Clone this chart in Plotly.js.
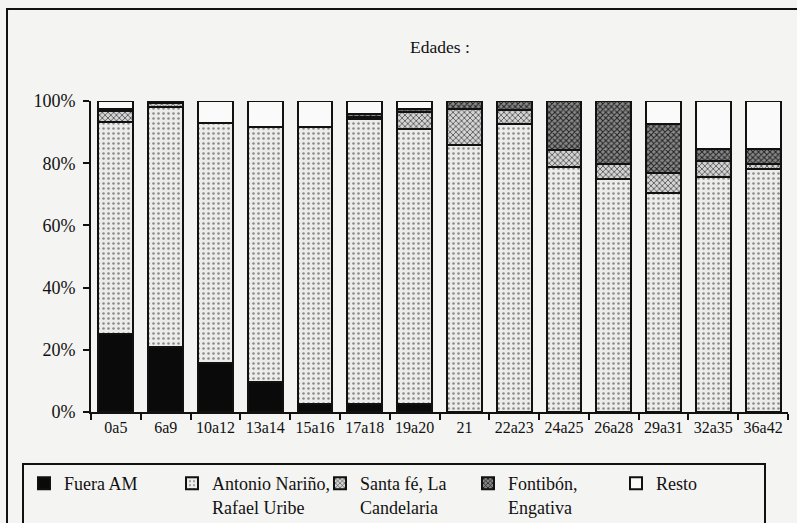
<!DOCTYPE html>
<html>
<head>
<meta charset="utf-8">
<script src="https://cdn.plot.ly/plotly-3.0.1.min.js"></script>
<style>html,body{margin:0;padding:0;background:#f4f4f2;}</style>
</head>
<body>
<div id="chart" style="width:797px;height:523px;"></div>
<script>
const categories = ['0a5','6a9','10a12','13a14','15a16','17a18','19a20','21','22a23','24a25','26a28','29a31','32a35','36a42'];
const fueraAM   = [25.0, 20.8, 15.6, 9.6, 2.7, 2.7, 2.7, 0, 0, 0, 0, 0, 0, 0];
const antonio   = [68.4, 77.4, 77.4, 82.0, 88.9, 91.6, 88.2, 86.0, 92.5, 78.7, 75.0, 70.4, 75.6, 78.2];
const santaFe   = [3.4, 1.0, 0, 0, 0, 0.6, 5.6, 11.3, 4.6, 5.7, 4.6, 6.5, 5.0, 1.4];
const fontibon  = [0.6, 0.3, 0, 0, 0, 0.8, 1.0, 2.7, 2.9, 15.6, 20.4, 15.8, 4.0, 5.0];
const resto     = [2.6, 0.5, 7.0, 8.4, 8.4, 4.3, 2.5, 0, 0, 0, 0, 7.3, 15.4, 15.4];
const seriesNames = ['Fuera AM', 'Antonio Nariño,<br>Rafael Uribe', 'Santa fé, La<br>Candelaria', 'Fontibón,<br>Engativa', 'Resto'];
const yTicks = [0, 20, 40, 60, 80, 100];
const yTickLabels = ['0%', '20%', '40%', '60%', '80%', '100%'];

const outline = {color: '#111', width: 2};
const styles = [
  {color: '#0a0a0a', line: outline},
  {color: '#ececea', line: outline, pattern: {shape: '.', fgcolor: '#8a8a8a', bgcolor: '#ececea', size: 5, solidity: 0.2}},
  {color: '#bdbdbd', line: outline, pattern: {shape: 'x', fgcolor: '#444', bgcolor: '#d4d4d4', size: 4, solidity: 0.35}},
  {color: '#555', line: outline, pattern: {shape: 'x', fgcolor: '#222', bgcolor: '#8a8a8a', size: 4, solidity: 0.45}},
  {color: '#fafafa', line: outline}
];
const values = [fueraAM, antonio, santaFe, fontibon, resto];

const traces = values.map((v, i) => ({
  type: 'bar', x: categories, y: v, name: seriesNames[i], marker: styles[i], hoverinfo: 'skip'
}));

const serif = 'Liberation Serif, Times New Roman, serif';
const layout = {
  width: 797, height: 523,
  margin: {l: 91, r: 9, t: 101, b: 111, autoexpand: false},
  paper_bgcolor: '#f4f4f2', plot_bgcolor: '#f4f4f2',
  barmode: 'stack', bargap: 0.3,
  font: {family: serif, size: 18, color: '#111'},
  title: {text: 'Edades :', x: 0.552, xanchor: 'center', y: 0.91, yanchor: 'middle', font: {family: serif, size: 17.5, color: '#111'}},
  xaxis: {type: 'category', showline: true, linecolor: '#111', linewidth: 2, ticks: 'outside', tickson: 'boundaries', ticklen: 6, tickwidth: 2, tickcolor: '#111', showgrid: false, zeroline: false, tickfont: {family: serif, size: 16}, automargin: false},
  yaxis: {range: [0, 100], tickmode: 'array', tickvals: yTicks, ticktext: yTickLabels, showline: true, linecolor: '#111', linewidth: 2, ticks: 'outside', ticklen: 6, tickwidth: 2, tickcolor: '#111', showgrid: false, zeroline: false, tickfont: {family: serif, size: 18}, ticklabelstandoff: 4, automargin: false},
  yaxis2: {overlaying: 'y', side: 'left', range: [0, 100], tickvals: yTicks, showticklabels: false, showline: false, ticks: 'inside', ticklen: 5, tickwidth: 2, tickcolor: '#111', showgrid: false, zeroline: false},
  xaxis2: {overlaying: 'x', side: 'bottom', anchor: 'y', range: [-0.5, 13.5], dtick: 1, tick0: 0.5, showticklabels: false, showline: false, ticks: 'inside', ticklen: 4, tickwidth: 2, tickcolor: '#111', showgrid: false, zeroline: false},
  showlegend: true,
  legend: {orientation: 'h', x: -0.099, xanchor: 'left', y: -0.164, yanchor: 'top', entrywidth: 103, entrywidthmode: 'pixels', itemwidth: 30, valign: 'top', bordercolor: '#111', borderwidth: 2, bgcolor: '#f4f4f2', font: {family: serif, size: 18, color: '#111'}, traceorder: 'normal'},
  shapes: [
    {type: 'rect', xref: 'paper', yref: 'paper', x0: -0.1205, x1: 1.03, y0: -0.4, y1: 1.2955, line: {color: '#111', width: 2}, layer: 'above'}
  ]
};
Plotly.newPlot('chart', traces, layout, {displayModeBar: false, staticPlot: true});
</script>
</body>
</html>
